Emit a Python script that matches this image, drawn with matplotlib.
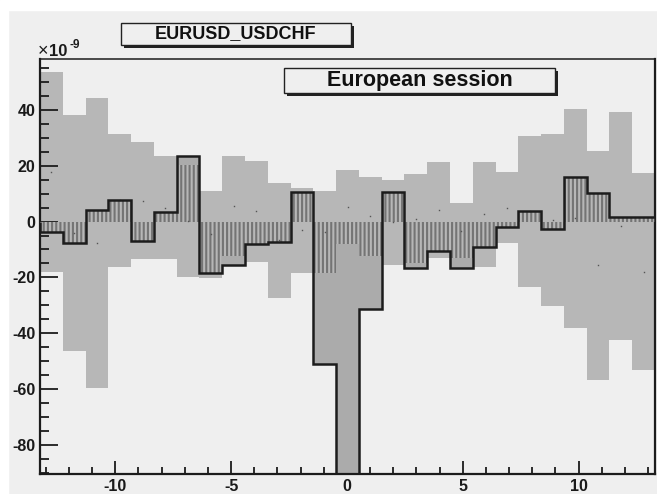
import numpy as np
import matplotlib
matplotlib.use("Agg")
import matplotlib.pyplot as plt
from matplotlib.patches import Rectangle
from matplotlib.ticker import MultipleLocator

plt.rcParams['font.family'] = ['Liberation Sans', 'DejaVu Sans']
plt.rcParams['axes.unicode_minus'] = False
plt.rcParams['hatch.linewidth'] = 1.5

# lag axis and binning (27 equal bins over the axis range)
x_min, x_max = -13.25, 13.3
n_bins = 27

# histogram content, units of 1e-9
hist_vals = [-3.6, -7.7, 4.2, 7.8, -6.8, 3.6, 23.5, -18.3, -15.5, -8.1, -7.2, 10.5, -51.0,
             -97.0, -31.3, 10.5, -16.7, -10.7, -16.7, -9.2, -1.8, 3.8, -2.5, 16.1, 10.4, 1.8, 1.8]
# reference band (upper / lower edge per bin)
band_hi = [53.8, 38.2, 44.2, 31.4, 28.5, 23.5, 20.3, 11.1, 23.5, 21.9, 14.0, 12.0, 10.8,
           18.5, 16.1, 15.0, 17.1, 21.5, 6.6, 21.5, 17.7, 30.7, 31.4, 40.4, 25.4, 39.2, 17.3]
band_lo = [-18.1, -46.5, -59.6, -16.1, -13.4, -13.4, -19.9, -20.2, -12.3, -14.6, -27.3, -18.3, -18.5,
           -8.1, -12.3, -15.5, -14.9, -13.0, -13.1, -16.2, -7.8, -23.3, -30.1, -38.1, -56.7, -42.6, -53.2]

x_ticks = [-10, -5, 0, 5, 10]
y_ticks = [-80, -60, -40, -20, 0, 20, 40]

title = "EURUSD_USDCHF"
session = "European session"

W, H = 657, 494
bg = '#efefef'
band_col = '#b7b7b7'
hist_col = '#ababab'
line_col = '#1c1c1c'

edges = np.linspace(x_min, x_max, n_bins + 1)
centers = 0.5 * (edges[:-1] + edges[1:])
width = edges[1] - edges[0]
vals = np.array(hist_vals)
hi = np.array(band_hi)
lo = np.array(band_lo)

fig = plt.figure(figsize=(W / 100, H / 100), dpi=100, facecolor=bg)
fig.add_artist(Rectangle((0, 1 - 10 / H), 1, 10 / H, transform=fig.transFigure,
                         color='white', zorder=-1))
fig.add_artist(Rectangle((0, 0), 8 / W, 1, transform=fig.transFigure,
                         color='white', zorder=-1))

ax = fig.add_axes([40 / W, 20 / H, 615 / W, 415 / H])
ax.set_facecolor(bg)

# band
ax.bar(centers, hi - lo, bottom=lo, width=width, color=band_col, linewidth=0, zorder=1)
# histogram fill
ax.bar(centers, vals, width=width, color=hist_col, linewidth=0, zorder=2)
# where histogram and band overlap the fill shows vertical stripes
ov_lo = np.maximum(lo, np.minimum(0, vals))
ov_hi = np.minimum(hi, np.maximum(0, vals))
keep = ov_hi > ov_lo
ax.bar(centers[keep], (ov_hi - ov_lo)[keep], bottom=ov_lo[keep], width=width,
       facecolor=band_col, edgecolor='#747474', hatch='||||', linewidth=0, zorder=3)
# band mean markers
ax.plot(centers, 0.5 * (hi + lo), 's', ms=1.0, mew=0, color='#555555', zorder=4)
# histogram outline
ax.stairs(vals, edges, color=line_col, linewidth=1.8, zorder=5)

ax.set_xlim(x_min, x_max)
ax.set_ylim(-90.5, 58.3)
ax.set_xticks(x_ticks)
ax.set_yticks(y_ticks)
ax.xaxis.set_minor_locator(MultipleLocator(1))
ax.yaxis.set_minor_locator(MultipleLocator(5))
ax.set_xticklabels([str(v) for v in x_ticks], fontweight='bold', fontsize=11.5, color='#1a1a1a')
ax.set_yticklabels([str(v) for v in y_ticks], fontweight='bold', fontsize=11.5, color='#1a1a1a')
ax.tick_params(which='both', direction='in', top=False, right=False, color=line_col, width=1.3)
ax.tick_params(axis='x', which='major', length=9.5, pad=3.5)
ax.tick_params(axis='x', which='minor', length=5)
ax.tick_params(axis='y', which='major', length=13, pad=3.5)
ax.tick_params(axis='y', which='minor', length=6.5)
for side in ['left', 'bottom', 'right']:
    ax.spines[side].set_linewidth(1.6)
    ax.spines[side].set_color(line_col)
ax.spines['top'].set_linewidth(1.1)
ax.spines['top'].set_color(line_col)

# exponent label for the y axis
fig.text(38 / W, 1 - 56 / H, "×", fontsize=13, color='#1a1a1a', va='baseline', ha='left')
fig.text(49 / W, 1 - 56 / H, "10", fontsize=12, fontweight='bold', color='#1a1a1a',
         va='baseline', ha='left')
fig.text(69.5 / W, 1 - 48 / H, "-9", fontsize=8.5, fontweight='bold', color='#1a1a1a',
         va='baseline', ha='left')


def pave(x0, y0, x1, y1, text, size):
    # box with a drop shadow on the right and bottom, pixel coords from the top
    sh = 3
    fig.add_artist(Rectangle((((x0 + sh) / W), 1 - (y1 + sh) / H), (x1 - x0) / W, (y1 - y0) / H,
                             transform=fig.transFigure, facecolor='#222222', linewidth=0,
                             zorder=6))
    fig.add_artist(Rectangle((x0 / W, 1 - y1 / H), (x1 - x0) / W, (y1 - y0) / H,
                             transform=fig.transFigure, facecolor=bg, edgecolor='#222222',
                             linewidth=1.0, zorder=7))
    fig.text((x0 + x1) / 2 / W, 1 - (y0 + y1) / 2 / H, text, fontsize=size, fontweight='bold',
             color='#111111', ha='center', va='center', zorder=8)


pave(120.7, 22.7, 350.5, 45.3, title, 13)
pave(284.3, 68.3, 554.7, 93.5, session, 15.5)

fig.savefig('out.png', dpi=100, facecolor=fig.get_facecolor())
